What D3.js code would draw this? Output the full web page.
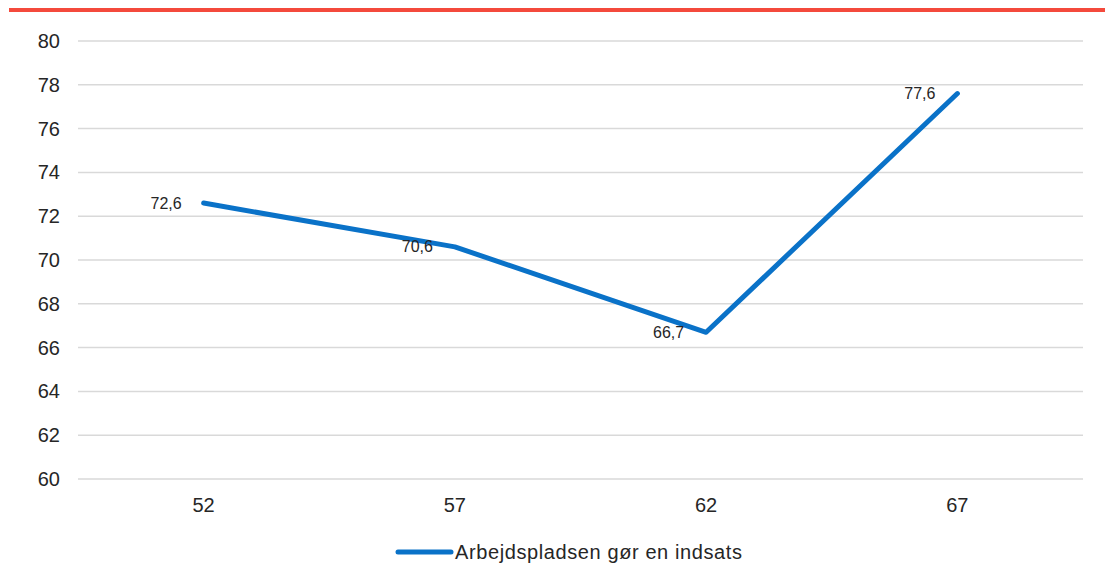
<!DOCTYPE html>
<html>
<head>
<meta charset="utf-8">
<script src="https://cdn.jsdelivr.net/npm/d3@7.9.0/dist/d3.min.js"></script>
<style>
  body { margin: 0; background: #fff; }
  svg { display: block; font-family: "Liberation Sans", Arial, sans-serif; }
</style>
</head>
<body>
<svg id="chart" width="1105" height="588"></svg>
<script>
// ---- data ----
const categories = ['52', '57', '62', '67'];
const values = [72.6, 70.6, 66.7, 77.6];
const valueLabels = ['72,6', '70,6', '66,7', '77,6'];
const yTicks = [60, 62, 64, 66, 68, 70, 72, 74, 76, 78, 80];
const seriesName = 'Arbejdspladsen gør en indsats';

const lineColor = '#0a72c8';
const textColor = '#262626';

const svg = d3.select('#chart');

// red top rule
svg.append('rect')
  .attr('x', 9).attr('y', 8)
  .attr('width', 1096).attr('height', 4)
  .attr('fill', '#f44a3c');

const x = d3.scaleBand()
  .domain(categories)
  .range([78, 1083]);

const y = d3.scaleLinear()
  .domain([60, 80])
  .range([479, 41]);

// gridlines
svg.append('g')
  .selectAll('line')
  .data(yTicks)
  .join('line')
  .attr('x1', 78).attr('x2', 1083)
  .attr('y1', d => y(d)).attr('y2', d => y(d))
  .attr('stroke', '#d9d9d9')
  .attr('stroke-width', 1.5);

// y axis labels
svg.append('g')
  .selectAll('text')
  .data(yTicks)
  .join('text')
  .attr('x', 60)
  .attr('y', d => y(d))
  .attr('dy', '0.35em')
  .attr('text-anchor', 'end')
  .attr('font-size', 20)
  .attr('fill', textColor)
  .text(d => d);

// x axis labels
svg.append('g')
  .selectAll('text')
  .data(categories)
  .join('text')
  .attr('x', d => x(d) + x.bandwidth() / 2)
  .attr('y', 505)
  .attr('dy', '0.35em')
  .attr('text-anchor', 'middle')
  .attr('font-size', 20)
  .attr('fill', textColor)
  .text(d => d);

// line
const pts = categories.map((c, i) => ({ c, v: values[i], label: valueLabels[i] }));
const line = d3.line()
  .x(d => x(d.c) + x.bandwidth() / 2)
  .y(d => y(d.v));

svg.append('path')
  .datum(pts)
  .attr('d', line)
  .attr('fill', 'none')
  .attr('stroke', lineColor)
  .attr('stroke-width', 5)
  .attr('stroke-linejoin', 'round')
  .attr('stroke-linecap', 'round');

// data labels
svg.append('g')
  .selectAll('text')
  .data(pts)
  .join('text')
  .attr('x', d => x(d.c) + x.bandwidth() / 2 - 22)
  .attr('y', d => y(d.v))
  .attr('dy', '0.35em')
  .attr('text-anchor', 'end')
  .attr('font-size', 16)
  .attr('fill', textColor)
  .text(d => d.label);

// legend
const lg = svg.append('g');
lg.append('line')
  .attr('x1', 398).attr('x2', 451)
  .attr('y1', 552).attr('y2', 552)
  .attr('stroke', lineColor)
  .attr('stroke-width', 5)
  .attr('stroke-linecap', 'round');
lg.append('text')
  .attr('x', 455).attr('y', 552)
  .attr('dy', '0.35em')
  .attr('font-size', 20)
  .attr('letter-spacing', 0.6)
  .attr('fill', textColor)
  .text(seriesName);
</script>
</body>
</html>
